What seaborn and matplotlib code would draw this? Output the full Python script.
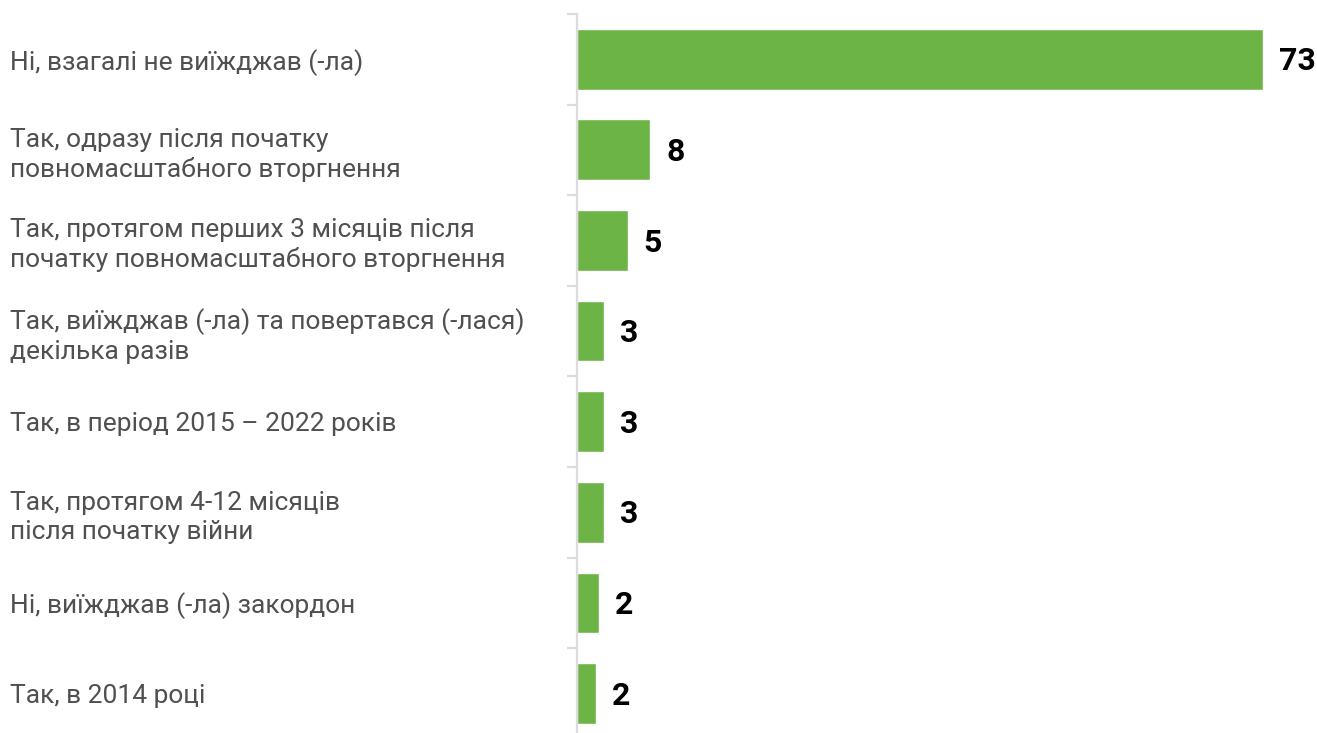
import numpy as np
import pandas as pd
import seaborn as sns
import matplotlib.pyplot as plt

# Data
answers = [
    'Ні, взагалі не виїжджав (-ла)',
    'Так, одразу після початку\nповномасштабного вторгнення',
    'Так, протягом перших 3 місяців після\nпочатку повномасштабного вторгнення',
    'Так, виїжджав (-ла) та повертався (-лася)\nдекілька разів',
    'Так, в період 2015 – 2022 років',
    'Так, протягом 4-12 місяців\nпісля початку війни',
    'Ні, виїжджав (-ла) закордон',
    'Так, в 2014 році',
]
shares = [73.0, 7.8, 5.4, 2.9, 2.9, 2.9, 2.3, 2.0]

df = pd.DataFrame({'answer': answers, 'share': shares})

sns.set_theme(style="white")
plt.rcParams['font.family'] = ['Roboto', 'DejaVu Sans']

fig = plt.figure(figsize=(13.17, 7.33), dpi=100)
ax = fig.add_axes([0.4381, -0.008, 0.5619, 0.989])

sns.barplot(data=df, x='share', y='answer', orient='h', color='#6db447',
            saturation=1, width=0.67, ax=ax)

ax.set_xlim(0, 78.75)
ax.set_xlabel('')
ax.set_ylabel('')
ax.set_xticks([])

# left axis line with ticks between categories
for s in ['top', 'right', 'bottom']:
    ax.spines[s].set_visible(False)
ax.spines['left'].set_color('#dcdcdc')
ax.spines['left'].set_linewidth(1.6)

ax.set_yticks(np.arange(len(answers) + 1) - 0.5, minor=True)
ax.tick_params(axis='y', which='minor', length=7.5, width=1.6, color='#dcdcdc', left=True)
ax.tick_params(axis='y', which='major', length=0, pad=408, labelsize=19, labelcolor='#505050')
for lbl in ax.get_yticklabels():
    lbl.set_horizontalalignment('left')
    lbl.set_linespacing(1.25)

# value labels
for i, v in enumerate(shares):
    ax.annotate(f'{v:.0f}', xy=(v, i), xytext=(11.5, -1.5), textcoords='offset points',
                ha='left', va='center', fontsize=23, fontweight='bold', color='black')

fig.savefig('out.png', dpi=100)
